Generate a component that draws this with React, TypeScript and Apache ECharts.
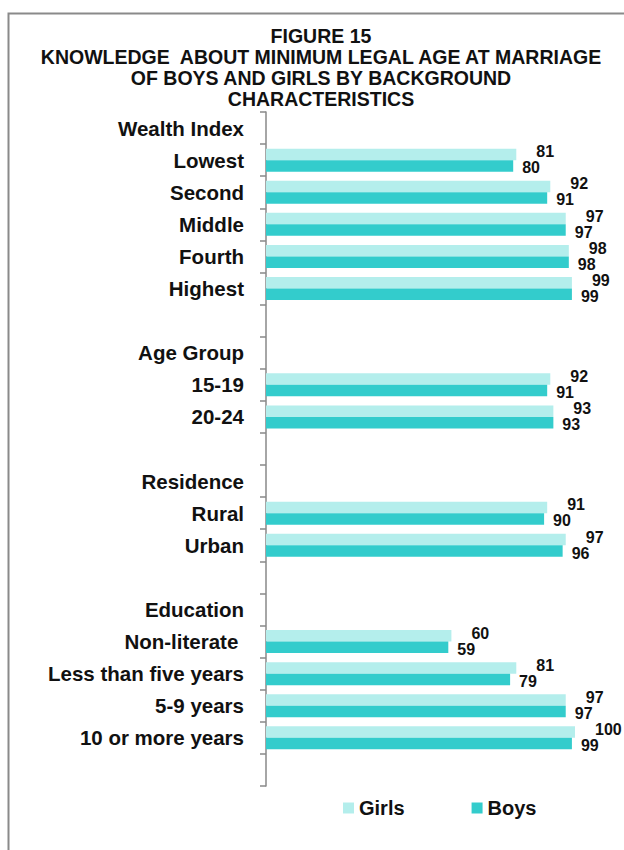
import React, { useEffect, useRef } from "react";
import * as echarts from "echarts";

const titleLines = [
  "FIGURE 15",
  "KNOWLEDGE  ABOUT MINIMUM LEGAL AGE AT MARRIAGE",
  "OF BOYS AND GIRLS BY BACKGROUND",
  "CHARACTERISTICS",
];

const categories = [
  "Wealth Index",
  "Lowest",
  "Second",
  "Middle",
  "Fourth",
  "Highest",
  "",
  "Age Group",
  "15-19",
  "20-24",
  "",
  "Residence",
  "Rural",
  "Urban",
  "",
  "Education",
  "Non-literate ",
  "Less than five years",
  "5-9 years",
  "10 or more years",
  "",
];

const girls = [null, 81, 92, 97, 98, 99, null, null, 92, 93, null, null, 91, 97, null, null, 60, 81, 97, 100, null];
const boys = [null, 80, 91, 97, 98, 99, null, null, 91, 93, null, null, 90, 96, null, null, 59, 79, 97, 99, null];

const seriesNames = ["Girls", "Boys"];
const FONT = "'Liberation Sans', Arial, sans-serif";

export default function App() {
  const ref = useRef<HTMLDivElement>(null);
  useEffect(() => {
    if (!ref.current) return;
    const chart = echarts.init(ref.current, undefined, { renderer: "svg" });
    chart.setOption({
      animation: false,
      backgroundColor: "#ffffff",
      title: {
        text: titleLines.join("\n"),
        left: 316,
        top: 20,
        textAlign: "center",
        textStyle: {
          fontFamily: FONT,
          fontWeight: "bold",
          fontSize: 19.5,
          lineHeight: 21,
          color: "#111",
        },
      },
      legend: {
        data: seriesNames,
        left: 338,
        top: 793,
        icon: "rect",
        itemWidth: 11,
        itemHeight: 11,
        itemGap: 67,
        textStyle: { fontFamily: FONT, fontWeight: "bold", fontSize: 20, color: "#111" },
      },
      graphic: [
        {
          type: "polyline",
          shape: { points: [[8.5, 850], [8.5, 13.5], [624, 13.5]] },
          style: { stroke: "#8a8a8a", lineWidth: 2, fill: "none" },
        },
      ],
      grid: { left: 266, right: 49, top: 112, bottom: 64, containLabel: false },
      xAxis: {
        type: "value",
        min: 0,
        max: 100,
        show: false,
      },
      yAxis: {
        type: "category",
        data: categories,
        inverse: true,
        axisLine: { show: true, lineStyle: { color: "#888", width: 1.5 } },
        axisTick: { show: true, length: 6, lineStyle: { color: "#888", width: 1.5 } },
        axisLabel: {
          margin: 22,
          fontFamily: FONT,
          fontWeight: "bold",
          fontSize: 20.5,
          color: "#111",
        },
        splitLine: { show: false },
      },
      series: [
        {
          name: "Girls",
          type: "bar",
          data: girls,
          barWidth: 11.5,
          barGap: "0%",
          itemStyle: { color: "#B4EEEC" },
          label: {
            show: true,
            position: "right",
            offset: [15, -2.5],
            fontFamily: FONT,
            fontWeight: "bold",
            fontSize: 16,
            lineHeight: 14,
            color: "#111",
          },
        },
        {
          name: "Boys",
          type: "bar",
          data: boys,
          barWidth: 11.5,
          barGap: "0%",
          itemStyle: { color: "#33CCCC" },
          label: {
            show: true,
            position: "right",
            offset: [4, 2],
            fontFamily: FONT,
            fontWeight: "bold",
            fontSize: 16,
            lineHeight: 14,
            color: "#111",
          },
        },
      ],
    });
    return () => chart.dispose();
  }, []);
  return (
    <div
      ref={ref}
      style={{ position: "absolute", left: 0, top: 0, width: 624, height: 850 }}
    />
  );
}
